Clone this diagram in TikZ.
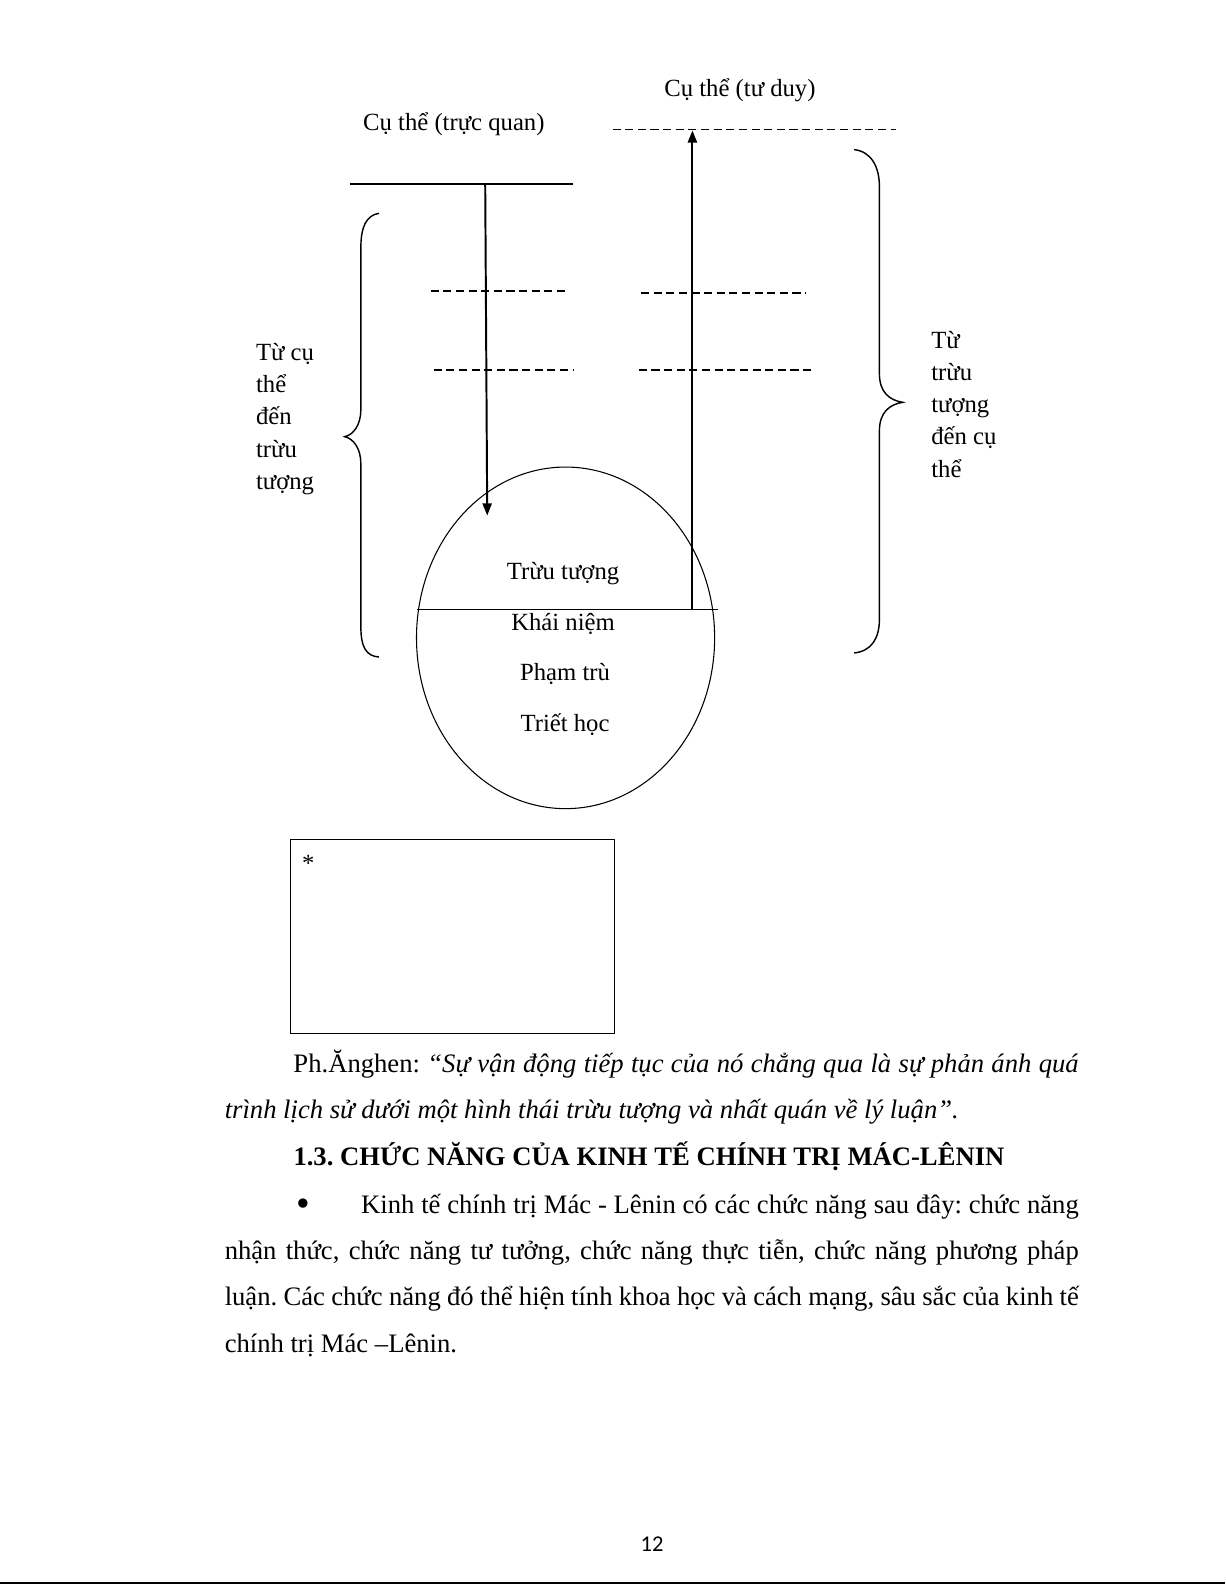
\documentclass[tikz,border=0pt]{standalone}
\usepackage{fontspec}
\setmainfont{Liberation Serif}
\newfontfamily\pagefont{Carlito}
\usetikzlibrary{arrows.meta,positioning,shapes.geometric}
\frenchspacing
\begin{document}
\begin{tikzpicture}[x=0.02cm, y=-0.02cm,
  lbl/.style={inner sep=0pt, font=\fontsize{13.9}{18.1}\selectfont},
  dashline/.style={line width=0.9pt, dash pattern=on 0.16cm off 0.09cm},
  flow/.style={line width=1.1pt, -{Triangle[length=0.24cm, width=0.18cm]}},
  brace/.style={line width=0.8pt},
  body/.style={inner sep=0pt, anchor=base west, text width=16.9cm, align=justify, font=\fontsize{15}{26.1}\selectfont}]
\useasboundingbox (0,0) rectangle (1212,1568);
% top labels
\node[lbl] (concrete) at (449,123) {Cụ thể (trực quan)};
\node[lbl] (thought) at (732,89) {Cụ thể (tư duy)};
% top solid line and dashed lines
\coordinate (solidL) at (346,182);
\coordinate (solidR) at (567,182);
\draw[line width=1.1pt] (solidL) -- (solidR);
\coordinate (topdashL) at (606,128);
\coordinate (topdashR) at (886,128);
\draw[dashline] (topdashL) -- (topdashR);
\draw[dashline] (426,288) -- (563,288);
\draw[dashline] (429,366) -- (567,366);
\draw[dashline] (634,290) -- (797,290);
\draw[dashline] (632,366) -- (803,366);
% ellipse
\node[draw, ellipse, line width=0.6pt, minimum width=5.9cm, minimum height=6.76cm, inner sep=0pt] (oval) at (559.5,631) {};
\coordinate (cutL) at (413,603);
\coordinate (cutR) at (710,603);
\draw[line width=0.6pt] (cutL) -- (cutR);
\node[lbl] (trutuong) at (557,567) {Trừu tượng};
\node[lbl] (khainiem) at (557,617) {Khái niệm};
\node[lbl] (phamtru) at (559,667) {Phạm trù};
\node[lbl] (triethoc) at (559,717) {Triết học};
% arrows
\coordinate (downtop) at (480,182);
\coordinate (downend) at (482,510);
\draw[flow] (downtop) -- (downend);
\coordinate (upfoot) at (685,603);
\coordinate (uptip) at (685,129);
\draw[flow] (upfoot) -- (uptip);
% braces
\draw[brace] (375,211) .. controls (362,213) and (357,225) .. (357,245) -- (357,405)
  .. controls (357,420) and (350,430) .. (341,432) .. controls (350,434) and (357,444) .. (357,459)
  -- (357,620) .. controls (357,640) and (362,649) .. (375,650);
\draw[brace] (845,148) .. controls (862,150) and (870,165) .. (870,185) -- (870,370)
  .. controls (870,388) and (880,396) .. (893,398) .. controls (880,400) and (870,408) .. (870,426)
  -- (870,612) .. controls (870,632) and (862,644) .. (845,646);
\node[lbl, anchor=base west, align=left] (leftnote) at (253,484) {Từ cụ\\thể\\đến\\trừu\\tượng};
\node[lbl, anchor=base west, align=left] (rightnote) at (921,472) {Từ\\trừu\\tượng\\đến cụ\\thể};
% empty box
\node[draw, line width=0.6pt, anchor=north west, minimum width=6.4cm, minimum height=3.84cm, inner sep=0pt] (notebox) at (287,830) {};
\node[lbl, anchor=base] (star) at (305,862) {*};
% text below
\node[body] (quote) at (222,1061) {\hspace*{1.36cm}Ph.Ănghen: \textit{“Sự vận động tiếp tục của nó chẳng qua là sự phản ánh quá}\linebreak \textit{trình lịch sử dưới một hình thái trừu tượng và nhất quán về lý luận”.}};
\node[inner sep=0pt, anchor=base west, font=\fontsize{15}{26.1}\selectfont\bfseries] (heading) at (290,1153) {1.3. CHỨC NĂNG CỦA KINH TẾ CHÍNH TRỊ MÁC-LÊNIN};
\node[body] (functions) at (222,1200) {\hspace*{1.42cm}\makebox[1.28cm][l]{\fontsize{22}{22}\selectfont\raisebox{-0.08em}{•}}Kinh tế chính trị Mác - Lênin có các chức năng sau đây: chức năng\linebreak nhận thức, chức năng tư tưởng, chức năng thực tiễn, chức năng phương pháp\linebreak luận. Các chức năng đó thể hiện tính khoa học và cách mạng, sâu sắc của kinh tế\linebreak chính trị Mác –Lênin.};
% page number and rule
\node[inner sep=0pt, font=\pagefont\fontsize{12.7}{14}\selectfont] (pagenum) at (645,1528) {12};
\draw[line width=1.1pt] (0,1566) -- (1212,1566);
\end{tikzpicture}
\end{document}
